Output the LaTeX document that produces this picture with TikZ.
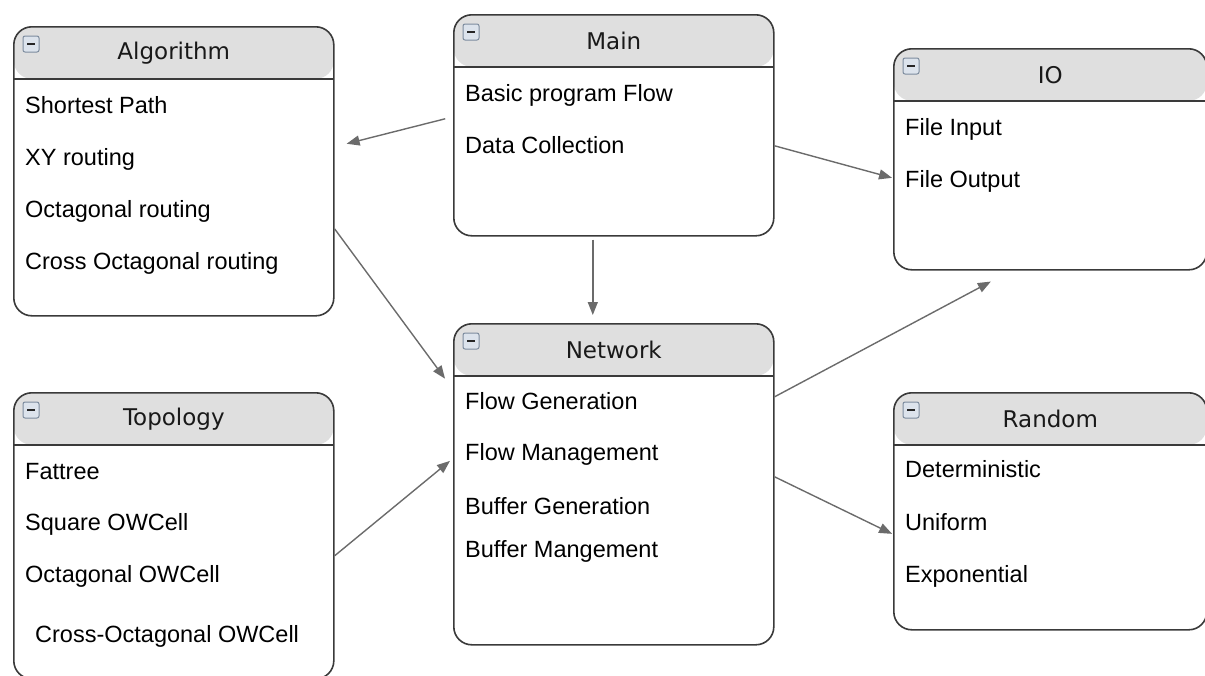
\documentclass[tikz,border=0pt]{standalone}
\usepackage{fontspec}
\setmainfont{Liberation Sans}
\newfontfamily\hdrfont{DejaVu Sans}
\usetikzlibrary{arrows.meta}

\definecolor{boxline}{HTML}{3A3A3A}
\definecolor{hdrfill}{HTML}{DFDFDF}
\definecolor{linkgray}{HTML}{6B6B6B}
\definecolor{minusfill}{HTML}{DCE3EC}
\definecolor{minusline}{HTML}{7D8C9E}

\tikzset{
  box/.style={draw=boxline, line width=1.6pt, rounded corners=18pt, fill=white,
    anchor=north west, inner sep=0pt,
    path picture={
      \fill[hdrfill] (path picture bounding box.north west) rectangle ([yshift=-52pt]path picture bounding box.north east);
      \draw[boxline, line width=1.5pt] ([yshift=-52pt]path picture bounding box.north west) -- ([yshift=-52pt]path picture bounding box.north east);
    }},
  title/.style={font=\hdrfont\fontsize{23}{28}\selectfont, text=black!90, inner sep=0pt},
  item/.style={font=\fontsize{23.5}{28}\selectfont, text=black, anchor=base west, inner sep=0pt},
  minus/.style={draw=minusline, fill=minusfill, line width=1pt, rounded corners=2pt,
    minimum size=16pt, inner sep=0pt,
    path picture={\draw[black!85, line width=2pt] ([xshift=4pt]path picture bounding box.west) -- ([xshift=-4pt]path picture bounding box.east);}},
  link/.style={draw=linkgray, line width=1.4pt, -{Triangle[length=13pt,width=10pt]}}
}

% box with header, title and collapse icon
\newcommand{\classbox}[6]{%
  \node[box, minimum width=#4, minimum height=#5] (#1) at (#2,#3) {};
  \node[title] (#1-title) at ([yshift=-27pt]#1.north) {#6};
  \node[minus] (#1-min) at ([xshift=18pt,yshift=-18pt]#1.north west) {};
}

\begin{document}
\begin{tikzpicture}[x=1pt, y=-1pt]
  \useasboundingbox (0,0) rectangle (1205,675);

  \classbox{algo}{13}{26}{320pt}{289pt}{Algorithm}
  \classbox{main}{453}{14}{320pt}{221pt}{Main}
  \classbox{io}{893}{48}{313pt}{221pt}{IO}
  \classbox{net}{453}{323}{320pt}{321pt}{Network}
  \classbox{topo}{13}{392}{320pt}{286pt}{Topology}
  \classbox{rand}{893}{392}{313pt}{237pt}{Random}

  % Algorithm
  \node[item] (algo-a) at ([xshift=12pt,yshift=-87pt]algo.north west) {Shortest Path};
  \node[item] (algo-b) at ([yshift=-52pt]algo-a.base west) {XY routing};
  \node[item] (algo-c) at ([yshift=-52pt]algo-b.base west) {Octagonal routing};
  \node[item] (algo-d) at ([yshift=-52pt]algo-c.base west) {Cross Octagonal routing};

  % Main
  \node[item] (main-a) at ([xshift=12pt,yshift=-87pt]main.north west) {Basic program Flow};
  \node[item] (main-b) at ([yshift=-52pt]main-a.base west) {Data Collection};

  % IO
  \node[item] (io-a) at ([xshift=12pt,yshift=-87pt]io.north west) {File Input};
  \node[item] (io-b) at ([yshift=-52pt]io-a.base west) {File Output};

  % Network
  \node[item] (net-a) at ([xshift=12pt,yshift=-86pt]net.north west) {Flow Generation};
  \node[item] (net-b) at ([yshift=-51pt]net-a.base west) {Flow Management};
  \node[item] (net-c) at ([yshift=-54pt]net-b.base west) {Buffer Generation};
  \node[item] (net-d) at ([yshift=-43pt]net-c.base west) {Buffer Mangement};

  % Topology
  \node[item] (topo-a) at ([xshift=12pt,yshift=-87pt]topo.north west) {Fattree};
  \node[item] (topo-b) at ([yshift=-51pt]topo-a.base west) {Square OWCell};
  \node[item] (topo-c) at ([yshift=-52pt]topo-b.base west) {Octagonal OWCell};
  \node[item] (topo-d) at ([xshift=10pt,yshift=-60pt]topo-c.base west) {Cross-Octagonal OWCell};

  % Random
  \node[item] (rand-a) at ([xshift=12pt,yshift=-85pt]rand.north west) {Deterministic};
  \node[item] (rand-b) at ([yshift=-53pt]rand-a.base west) {Uniform};
  \node[item] (rand-c) at ([yshift=-52pt]rand-b.base west) {Exponential};

  % connectors
  \draw[link, shorten <=8pt, shorten >=12.4pt] ([yshift=8.5pt]main.west) -- ([yshift=24.5pt]algo.east);
  \draw[link, shorten >=1pt] ([yshift=-20.5pt]main.east) -- ([yshift=-18.8pt]io.west);
  \draw[link, shorten <=3pt, shorten >=8pt] ([xshift=-21pt]main.south) -- ([xshift=-21pt]net.north);
  \draw[link, shorten >=13.4pt] ([yshift=-57.5pt]algo.east) -- ([yshift=94.8pt]net.west);
  \draw[link, shorten >=3.9pt] ([yshift=-20pt]topo.east) -- ([yshift=25.9pt]net.west);
  \draw[link, shorten >=23.3pt] ([yshift=87.5pt]net.east) -- ([xshift=-38.9pt]io.south);
  \draw[link, shorten >=1pt] ([yshift=7.5pt]net.east) -- ([yshift=-23pt]rand.west);
\end{tikzpicture}
\end{document}
